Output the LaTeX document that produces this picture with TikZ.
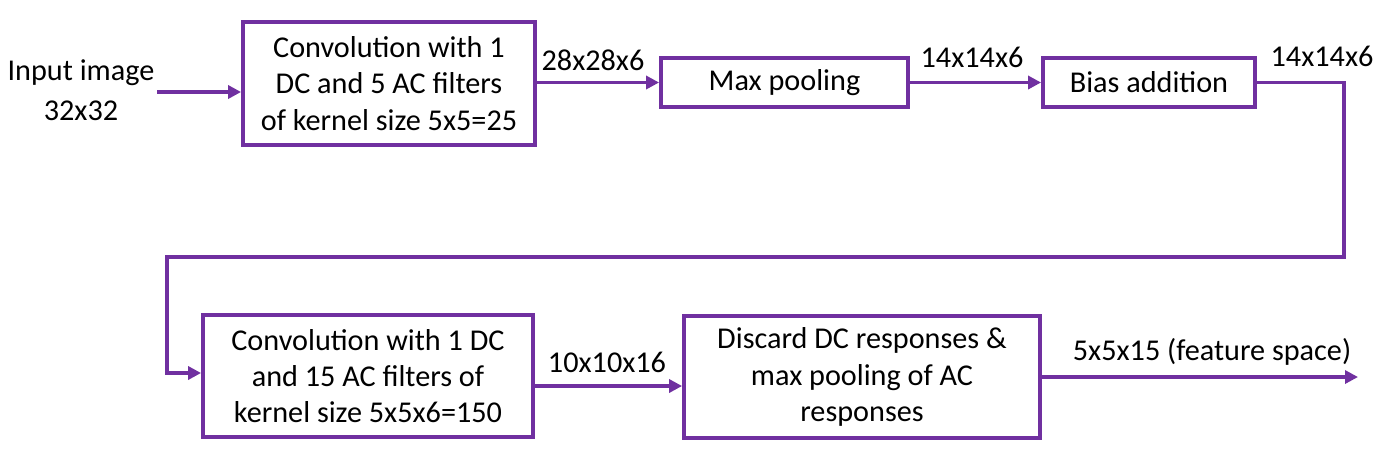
\documentclass[tikz,border=0pt]{standalone}
\usepackage{fontspec}
\setmainfont{Carlito}
\usepackage{tikz}
\usetikzlibrary{arrows.meta}
\usetikzlibrary{positioning}
\definecolor{flowpurple}{RGB}{112,48,160}
\tikzset{
	stage/.style={draw=flowpurple,line width=2.2pt,fill=white,align=center,inner sep=2pt},
	flow/.style={draw=flowpurple,line width=2.2pt,-{Triangle[length=0.26cm,width=0.26cm]}},
	size/.style={inner sep=1pt}
}

\begin{document}
\begin{tikzpicture}[x=0.02cm,y=-0.02cm,font=\fontsize{17.2pt}{20.6pt}\selectfont]

        \useasboundingbox (0,0) rectangle (1383,461);

        % ==================================================
        % 1. TOP ROW
        % ==================================================
        \node[align=center,font=\fontsize{17.2pt}{23pt}\selectfont] (input) at (81,90) {Input image\\32x32};

        \node[stage,minimum width=5.84cm,minimum height=2.46cm] (conv1) at (389,83.5)
            {Convolution with 1\\DC and 5 AC filters\\of kernel size 5x5=25};
        \node[stage,minimum width=4.94cm,minimum height=0.98cm] (pool1) at (784.5,82.5)
            {Max pooling};
        \node[stage,minimum width=4.24cm,minimum height=0.98cm] (bias) at (1149,82.5)
            {Bias addition};

        \node[size] (s1) at (593,60) {28x28x6};
        \node[size] (s2) at (972,57) {14x14x6};
        \node[size] (s3) at (1322,56) {14x14x6};

        % ==================================================
        % 2. BOTTOM ROW
        % ==================================================
        \node[stage,minimum width=6.6cm,minimum height=2.44cm] (conv2) at (368,376)
            {Convolution with 1 DC\\and 15 AC filters of\\kernel size 5x5x6=150};
        \node[stage,minimum width=7.12cm,minimum height=2.44cm] (discard) at (862,377)
            {Discard DC responses \&\\max pooling of AC\\responses};

        \node[size] (s4) at (607,362) {10x10x16};
        \node[size] (s5) at (1212,352) {5x5x15 (feature space)};

        % ==================================================
        % 3. CONNECTORS
        % ==================================================
        \coordinate (inarrow) at (157,92);
        \coordinate (turnR) at (1344,257);
        \coordinate (turnL) at (167,257);
        \coordinate (out) at (1358,377);

        \draw[flow] (inarrow) -- (inarrow -| conv1.west);
        \draw[flow] (pool1.west -| conv1.east) -- (pool1.west);
        \draw[flow] (pool1.east) -- (bias.west);
        \draw[flow] (bias.east) -| (turnR) -- (turnL) |- ([yshift=0.06cm]conv2.west);
        \draw[flow] ([yshift=-0.2cm]conv2.east) -- ([yshift=-0.2cm]conv2.east -| discard.west);
        \draw[flow] (discard.east) -- (out);

    \end{tikzpicture}
\end{document}
